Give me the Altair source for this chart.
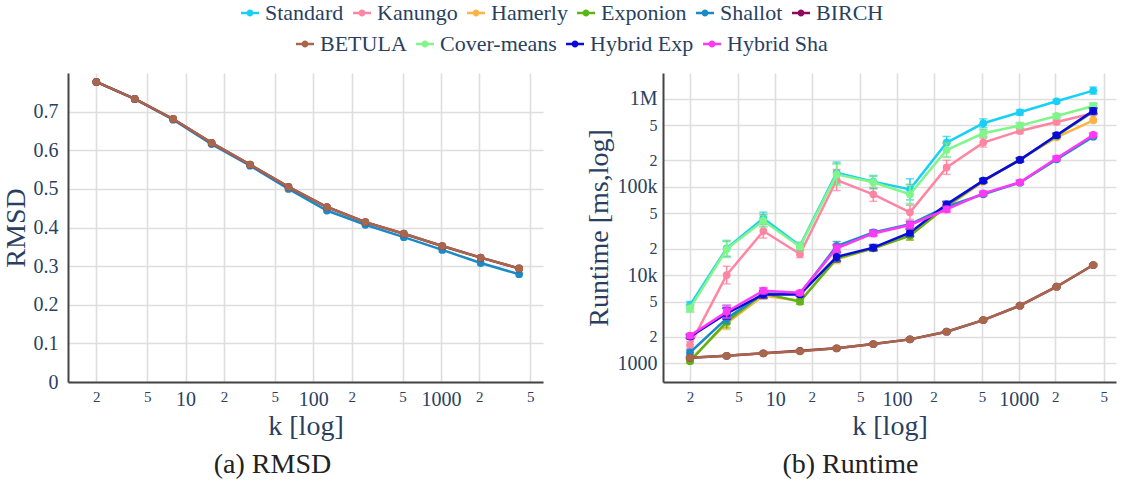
import altair as alt
import pandas as pd

# ---- data -------------------------------------------------------------
k_values = [2, 4, 8, 16, 32, 64, 128, 256, 512, 1024, 2048, 4096]

series_names = ["Standard", "Kanungo", "Hamerly", "Exponion", "Shallot", "BIRCH",
                "BETULA", "Cover-means", "Hybrid Exp", "Hybrid Sha"]
series_colors = ["#17d0f5", "#ff85a2", "#ffb347", "#5cb514", "#1a8ac6", "#8c0a5e",
                 "#a6674a", "#80f58a", "#0a0adc", "#ff38f5"]

# RMSD of the clustering (exact k-means vs. BIRCH / BETULA)
rmsd_shallot = [0.777, 0.733, 0.679, 0.616, 0.560, 0.500, 0.444, 0.407, 0.375, 0.342, 0.308, 0.279]
rmsd_birch = [0.777, 0.733, 0.681, 0.619, 0.563, 0.505, 0.453, 0.414, 0.384, 0.352, 0.322, 0.294]
rmsd_betula = [0.777, 0.733, 0.681, 0.619, 0.563, 0.505, 0.453, 0.414, 0.384, 0.352, 0.322, 0.294]

# Runtime in ms
rt_standard = [4560, 20100, 44100, 21500, 145600, 115000, 94000, 319000, 529000, 705000, 940000, 1244000]
rt_kanungo = [1600, 10000, 31600, 17300, 120000, 82600, 51500, 167000, 319000, 433000, 548000, 687000]
rt_hamerly = [1080, 2830, 5830, 5100, 15100, 20100, 28000, 59800, 115000, 206000, 366000, 572000]
rt_exponion = [1050, 2950, 6190, 4980, 15450, 20100, 28000, 60900, 118000, 203000, 380000, 718000]
rt_shallot = [1320, 3220, 6190, 6100, 21400, 30500, 37700, 59800, 82600, 112000, 206000, 373000]
rt_birch = [1150, 1210, 1290, 1380, 1470, 1645, 1860, 2270, 3080, 4490, 7370, 13000]
rt_betula = [1150, 1210, 1290, 1360, 1470, 1645, 1860, 2270, 3080, 4490, 7370, 13000]
rt_cover = [4180, 19700, 41400, 21000, 139000, 113000, 82600, 263000, 407000, 498000, 641000, 832000]
rt_hybrid_exp = [2000, 3660, 6030, 6030, 16100, 20500, 30300, 63500, 118000, 203000, 387000, 731000]
rt_hybrid_sha = [2050, 3830, 6640, 6290, 20100, 29700, 37000, 55700, 84700, 113000, 212000, 390000]

# half-width of the error bars, in decades
err_standard = [0.04, 0.09, 0.07, 0.04, 0.12, 0.07, 0.12, 0.07, 0.05, 0.03, 0.02, 0.04]
err_kanungo = [0.04, 0.10, 0.08, 0.04, 0.12, 0.08, 0.08, 0.08, 0.05, 0.03, 0.02, 0.02]
err_hamerly = [0.02, 0.07, 0.04, 0.02, 0.05, 0.03, 0.05, 0.02, 0.02, 0.02, 0.02, 0.02]
err_exponion = [0.02, 0.07, 0.03, 0.03, 0.04, 0.03, 0.05, 0.02, 0.02, 0.02, 0.02, 0.02]
err_shallot = [0.03, 0.06, 0.03, 0.02, 0.05, 0.03, 0.03, 0.02, 0.02, 0.02, 0.02, 0.02]
err_birch = [0.01, 0.01, 0.01, 0.01, 0.01, 0.01, 0.01, 0.01, 0.01, 0.01, 0.01, 0.01]
err_betula = [0.01, 0.01, 0.01, 0.01, 0.01, 0.01, 0.01, 0.01, 0.01, 0.01, 0.01, 0.01]
err_cover = [0.04, 0.09, 0.07, 0.04, 0.12, 0.07, 0.11, 0.08, 0.04, 0.03, 0.02, 0.03]
err_hybrid_exp = [0.02, 0.06, 0.04, 0.02, 0.05, 0.03, 0.04, 0.03, 0.02, 0.02, 0.02, 0.03]
err_hybrid_sha = [0.02, 0.07, 0.03, 0.02, 0.04, 0.03, 0.04, 0.03, 0.02, 0.02, 0.02, 0.02]

x_tick_values = [2, 5, 10, 20, 50, 100, 200, 500, 1000, 2000, 5000]
rmsd_tick_values = [0, 0.1, 0.2, 0.3, 0.4, 0.5, 0.6, 0.7]
runtime_tick_values = [1000, 2000, 5000, 10000, 20000, 50000, 100000, 200000, 500000, 1000000]

rmsd_series = {"Shallot": rmsd_shallot, "BIRCH": rmsd_birch, "BETULA": rmsd_betula}
runtime_series = {
    "Standard": (rt_standard, err_standard),
    "Kanungo": (rt_kanungo, err_kanungo),
    "Hamerly": (rt_hamerly, err_hamerly),
    "Exponion": (rt_exponion, err_exponion),
    "Shallot": (rt_shallot, err_shallot),
    "BIRCH": (rt_birch, err_birch),
    "BETULA": (rt_betula, err_betula),
    "Cover-means": (rt_cover, err_cover),
    "Hybrid Exp": (rt_hybrid_exp, err_hybrid_exp),
    "Hybrid Sha": (rt_hybrid_sha, err_hybrid_sha),
}

rmsd_df = pd.DataFrame(
    [{"series": s, "k": k, "rmsd": v} for s, vals in rmsd_series.items() for k, v in zip(k_values, vals)]
)
runtime_df = pd.DataFrame(
    [
        {"series": s, "k": k, "ms": v, "lo": v / 10 ** e, "hi": v * 10 ** e}
        for s, (vals, errs) in runtime_series.items()
        for k, v, e in zip(k_values, vals, errs)
    ]
)

# ---- styling ----------------------------------------------------------
FONT = "Liberation Serif"
TEXT = "#2a3f5f"
GRID = "#dedede"
PLOT_H = 309
TITLE_SIZE = 28

row_a = series_names[:6]
row_b = series_names[6:]
colors_a = series_colors[:6]
colors_b = series_colors[6:]

legend_symbol = "M-1,0L1,0M-0.24,0A0.24,0.24,0,1,0,0.24,0A0.24,0.24,0,1,0,-0.24,0"
legend_common = dict(
    title=None, orient="none", direction="horizontal", symbolType=legend_symbol,
    symbolSize=324, symbolStrokeWidth=2.5, labelFont=FONT, labelFontSize=22,
    labelColor=TEXT, labelOffset=4, columnPadding=4, labelLimit=300,
)
legend_a = alt.Legend(legendX=171, legendY=-71, **legend_common)
legend_b = alt.Legend(legendX=226, legendY=-40, **legend_common)
scale_a = alt.Scale(domain=row_a, range=colors_a)
scale_b = alt.Scale(domain=row_b, range=colors_b)

big_small_x = "indexof([10, 100, 1000], datum.value) >= 0"
x_scale = alt.Scale(type="log", domain=[1.2, 6300], nice=False)
x_axis = alt.Axis(
    values=x_tick_values, title="k [log]", grid=True, ticks=False,
    labelExpr=big_small_x + " ? format(datum.value, 'd') : substring(toString(datum.value), 0, 1)",
    labelFontSize={"condition": {"test": big_small_x, "value": 20}, "value": 15},
    labelFont=FONT, labelPadding=7, titlePadding=3, labelFlush=False,
)

rmsd_axis = alt.Axis(
    values=rmsd_tick_values, title="RMSD", grid=True, ticks=False,
    labelExpr="datum.value == 0 ? '0' : format(datum.value, '.1f')",
    labelFont=FONT, labelFontSize=20, labelPadding=10, titlePadding=3,
)

big_small_y = "indexof([1000, 10000, 100000, 1000000], datum.value) >= 0"
runtime_axis = alt.Axis(
    values=runtime_tick_values, title="Runtime [ms,log]", grid=True, ticks=False,
    labelExpr=(
        "datum.value == 1000 ? '1000' : datum.value == 10000 ? '10k' : "
        "datum.value == 100000 ? '100k' : datum.value == 1000000 ? '1M' : "
        "substring(toString(datum.value), 0, 1)"
    ),
    labelFontSize={"condition": {"test": big_small_y, "value": 20}, "value": 16},
    labelFont=FONT, labelPadding=6, titlePadding=4,
)


def channel(name, point=False):
    """Colour channels: first legend row on `color`, second row on `stroke`/`fill`."""
    if name in row_a:
        return {"color": alt.Color("series:N", scale=scale_a, legend=legend_a)}
    enc = {"stroke": alt.Stroke("series:N", scale=scale_b, legend=legend_b)}
    if point:
        enc["fill"] = alt.Fill("series:N", scale=alt.Scale(domain=row_b, range=colors_b), legend=None)
    return enc


def panel_layers(df, yfield, y_scale, y_axis, names, errors):
    layers = []
    x = alt.X("k:Q", scale=x_scale, axis=x_axis)
    for name in names:
        base = alt.Chart(df).transform_filter(alt.datum.series == name)
        y = alt.Y(f"{yfield}:Q", scale=y_scale, axis=y_axis)
        if errors:
            layers.append(base.mark_rule(strokeWidth=1.5).encode(
                x=x, y=alt.Y("lo:Q", scale=y_scale, axis=y_axis), y2="hi:Q", **channel(name)))
            for end in ("lo", "hi"):
                layers.append(base.mark_tick(orient="horizontal", size=8, thickness=1.5).encode(
                    x=x, y=alt.Y(f"{end}:Q", scale=y_scale, axis=y_axis), **channel(name)))
        layers.append(base.mark_line(strokeWidth=2.5).encode(x=x, y=y, **channel(name)))
        layers.append(base.mark_point(filled=True, size=60, opacity=1, strokeWidth=0).encode(
            x=x, y=y, **channel(name, point=True)))
    return layers


caption_style = dict(orient="bottom", anchor="middle", frame="bounds", offset=11,
                     fontSize=TITLE_SIZE, font=FONT, color="#222222", fontWeight="normal")

rmsd_chart = alt.layer(
    *panel_layers(rmsd_df, "rmsd", alt.Scale(domain=[0, 0.8], nice=False), rmsd_axis,
                  list(rmsd_series.keys()), False)
).properties(
    width=475, height=PLOT_H,
    title=alt.TitleParams("(a) RMSD", **caption_style),
)

runtime_chart = alt.layer(
    *panel_layers(runtime_df, "ms", alt.Scale(type="log", domain=[610, 1.97e6], nice=False),
                  runtime_axis, series_names, True)
).properties(
    width=453, height=PLOT_H,
    title=alt.TitleParams("(b) Runtime", **caption_style),
)

chart = (
    alt.hconcat(rmsd_chart, runtime_chart, spacing=42)
    .properties(padding={"left": 2, "top": 2, "right": 7, "bottom": 8}, background="white")
    .configure(font=FONT)
    .configure_view(strokeWidth=0)
    .configure_legend(labelFont=FONT)
    .configure_axis(
        labelFont=FONT, titleFont=FONT, labelColor=TEXT, titleColor=TEXT,
        titleFontSize=TITLE_SIZE, titleFontWeight="normal", gridColor=GRID, gridWidth=1.6,
        domainColor="#444444", domainWidth=2,
    )
)

chart.save("out.html", embed_options={"renderer": "svg", "actions": False})
